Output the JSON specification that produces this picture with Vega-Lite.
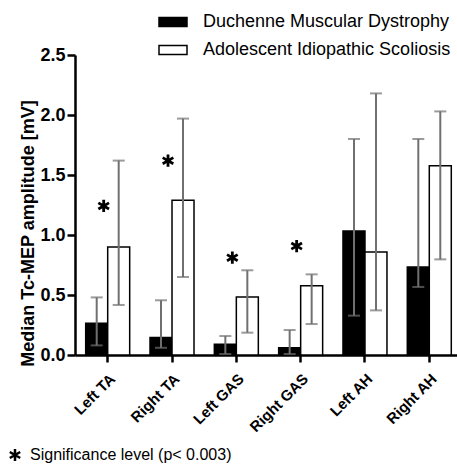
{
  "$schema": "https://vega.github.io/schema/vega-lite/v6.json",
  "width": 382,
  "height": 300,
  "autosize": {"type": "none"},
  "padding": {"left": 75, "top": 55, "right": 0, "bottom": 110},
  "background": "white",
  "config": {
    "view": {"stroke": null},
    "font": "Liberation Sans",
    "axis": {"grid": false, "domainColor": "black", "tickColor": "black", "labelColor": "black", "titleColor": "black", "domainWidth": 2.5, "tickWidth": 2.5}
  },
  "datasets": {
    "bars": [
      {"muscle": "Left TA", "group": "Duchenne Muscular Dystrophy", "median": 0.265, "lo": 0.08, "hi": 0.48},
      {"muscle": "Left TA", "group": "Adolescent Idiopathic Scoliosis", "median": 0.90, "lo": 0.417, "hi": 1.62},
      {"muscle": "Right TA", "group": "Duchenne Muscular Dystrophy", "median": 0.145, "lo": 0.06, "hi": 0.456},
      {"muscle": "Right TA", "group": "Adolescent Idiopathic Scoliosis", "median": 1.29, "lo": 0.65, "hi": 1.97},
      {"muscle": "Left GAS", "group": "Duchenne Muscular Dystrophy", "median": 0.089, "lo": 0.008, "hi": 0.158},
      {"muscle": "Left GAS", "group": "Adolescent Idiopathic Scoliosis", "median": 0.483, "lo": 0.186, "hi": 0.706},
      {"muscle": "Right GAS", "group": "Duchenne Muscular Dystrophy", "median": 0.061, "lo": 0.008, "hi": 0.208},
      {"muscle": "Right GAS", "group": "Adolescent Idiopathic Scoliosis", "median": 0.578, "lo": 0.258, "hi": 0.672},
      {"muscle": "Left AH", "group": "Duchenne Muscular Dystrophy", "median": 1.033, "lo": 0.328, "hi": 1.80},
      {"muscle": "Left AH", "group": "Adolescent Idiopathic Scoliosis", "median": 0.858, "lo": 0.372, "hi": 2.18},
      {"muscle": "Right AH", "group": "Duchenne Muscular Dystrophy", "median": 0.733, "lo": 0.567, "hi": 1.80},
      {"muscle": "Right AH", "group": "Adolescent Idiopathic Scoliosis", "median": 1.578, "lo": 0.797, "hi": 2.03}
    ],
    "stars": [
      {"muscle": "Left TA", "level": 1.242, "sig": "Significance level (p< 0.003)"},
      {"muscle": "Right TA", "level": 1.619, "sig": "Significance level (p< 0.003)"},
      {"muscle": "Left GAS", "level": 0.811, "sig": "Significance level (p< 0.003)"},
      {"muscle": "Right GAS", "level": 0.908, "sig": "Significance level (p< 0.003)"}
    ]
  },
  "encoding": {
    "x": {
      "field": "muscle",
      "type": "nominal",
      "sort": ["Left TA", "Right TA", "Left GAS", "Right GAS", "Left AH", "Right AH"],
      "scale": {"paddingInner": 0.316, "paddingOuter": 0.1275, "align": 0.652},
      "axis": {"title": null, "labelAngle": -45, "labelFontSize": 15, "labelFontWeight": "bold", "tickSize": 7, "labelPadding": 9}
    }
  },
  "layer": [
    {
      "data": {"name": "bars"},
      "mark": {"type": "bar", "stroke": "black", "strokeWidth": 1.5},
      "encoding": {
        "xOffset": {"field": "group", "type": "nominal", "sort": ["Duchenne Muscular Dystrophy", "Adolescent Idiopathic Scoliosis"], "scale": {"paddingInner": 0, "paddingOuter": 0}},
        "y": {
          "field": "median",
          "type": "quantitative",
          "scale": {"domain": [0, 2.5], "nice": false},
          "axis": {"values": [0, 0.5, 1, 1.5, 2, 2.5], "format": ".1f", "labelFontSize": 18, "labelFontWeight": "bold", "tickSize": 8, "labelPadding": 2,
                   "title": "Median Tc-MEP amplitude [mV]", "titleFontSize": 18, "titleFontWeight": "bold", "titleAngle": -90, "titleX": -47, "titleY": 178, "titleAlign": "center", "titleBaseline": "middle"}
        },
        "fill": {
          "field": "group",
          "type": "nominal",
          "scale": {"domain": ["Duchenne Muscular Dystrophy", "Adolescent Idiopathic Scoliosis"], "range": ["black", "white"]},
          "legend": {"orient": "none", "legendX": 83, "legendY": -48, "title": null, "symbolType": "M-1,-0.32H1V0.32H-1Z", "symbolSize": 784, "symbolStrokeColor": "black", "symbolStrokeWidth": 1.5, "labelFontSize": 18, "labelOffset": 15, "labelLimit": 0, "rowPadding": 4, "padding": 0, "labelColor": "black"}
        }
      }
    },
    {
      "data": {"name": "bars"},
      "mark": {"type": "rule", "color": "#707070", "strokeWidth": 2},
      "encoding": {
        "xOffset": {"field": "group", "type": "nominal", "sort": ["Duchenne Muscular Dystrophy", "Adolescent Idiopathic Scoliosis"]},
        "y": {"field": "lo", "type": "quantitative"},
        "y2": {"field": "hi"}
      }
    },
    {
      "data": {"name": "bars"},
      "mark": {"type": "tick", "color": "#707070", "thickness": 2, "size": 12},
      "encoding": {
        "xOffset": {"field": "group", "type": "nominal", "sort": ["Duchenne Muscular Dystrophy", "Adolescent Idiopathic Scoliosis"]},
        "y": {"field": "lo", "type": "quantitative"}
      }
    },
    {
      "data": {"name": "bars"},
      "mark": {"type": "tick", "color": "#707070", "thickness": 2, "size": 12},
      "encoding": {
        "xOffset": {"field": "group", "type": "nominal", "sort": ["Duchenne Muscular Dystrophy", "Adolescent Idiopathic Scoliosis"]},
        "y": {"field": "hi", "type": "quantitative"}
      }
    },
    {
      "data": {"name": "stars"},
      "mark": {"type": "point", "filled": false, "color": "black", "strokeWidth": 2.8, "size": 150, "xOffset": -4, "opacity": 1},
      "encoding": {
        "y": {"field": "level", "type": "quantitative"},
        "shape": {
          "field": "sig",
          "type": "nominal",
          "scale": {"range": ["M0,-1L0,1M-0.87,-0.5L0.87,0.5M-0.87,0.5L0.87,-0.5"]},
          "legend": {"orient": "none", "legendX": -68, "legendY": 392, "title": null, "symbolSize": 144, "symbolStrokeColor": "black", "symbolStrokeWidth": 2.5, "labelFontSize": 16, "labelOffset": 7, "labelLimit": 0, "padding": 0, "labelColor": "black"}
        }
      }
    }
  ]
}
